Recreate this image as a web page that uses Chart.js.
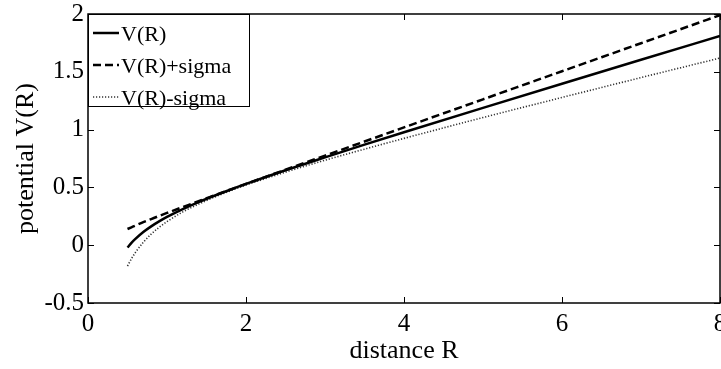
<!DOCTYPE html>
<html>
<head>
<meta charset="utf-8">
<script src="https://cdn.jsdelivr.net/npm/chart.js@4"></script>
<style>
  html, body { margin: 0; padding: 0; background: #fff; }
  #wrap { width: 721px; height: 369px; position: relative; }
</style>
</head>
<body>
<div id="wrap"><canvas id="c" width="721" height="369"></canvas></div>
<script>
// ---- data ----
const distanceR = [0.5, 0.55, 0.6, 0.7, 0.8, 0.9, 1.0, 1.2, 1.4, 1.6, 1.8, 2.0, 2.5, 3.0, 3.5, 4.0, 5.0, 6.0, 7.0, 8.0];
const potentialV = [-0.02, 0.02, 0.054, 0.114, 0.163, 0.206, 0.245, 0.313, 0.373, 0.428, 0.480, 0.530, 0.648, 0.760, 0.870, 0.977, 1.188, 1.397, 1.604, 1.810];
const potentialPlusSigma = [0.140, 0.155, 0.170, 0.199, 0.226, 0.253, 0.279, 0.330, 0.381, 0.431, 0.481, 0.530, 0.653, 0.775, 0.897, 1.019, 1.262, 1.505, 1.747, 1.990];
const potentialMinusSigma = [-0.180, -0.117, -0.063, 0.025, 0.096, 0.154, 0.204, 0.288, 0.356, 0.416, 0.470, 0.520, 0.632, 0.735, 0.831, 0.924, 1.104, 1.278, 1.450, 1.619];
const seriesLabels = ['V(R)', 'V(R)+sigma', 'V(R)-sigma'];
const xTicks = [0, 2, 4, 6, 8];
const yTicks = [-0.5, 0, 0.5, 1, 1.5, 2];
const xTitle = 'distance R';
const yTitle = 'potential V(R)';

const FONT = "'Liberation Serif', 'Times New Roman', serif";

function pts(ys) { return distanceR.map((x, i) => ({ x: x, y: ys[i] })); }

const frameAndLegend = {
  id: 'frameAndLegend',
  afterDatasetsDraw(chart) {
    const ctx = chart.ctx;
    const a = chart.chartArea;
    const xs = chart.scales.x, ys = chart.scales.y;
    ctx.save();
    ctx.strokeStyle = '#000';
    ctx.lineWidth = 1.5;
    ctx.strokeRect(a.left, a.top, a.right - a.left, a.bottom - a.top);
    const tl = 6;
    ctx.lineWidth = 1;
    ctx.beginPath();
    xTicks.forEach(v => {
      const px = Math.round(xs.getPixelForValue(v)) + 0.5;
      ctx.moveTo(px, a.bottom); ctx.lineTo(px, a.bottom - tl);
      ctx.moveTo(px, a.top); ctx.lineTo(px, a.top + tl);
    });
    yTicks.forEach(v => {
      const py = Math.round(ys.getPixelForValue(v)) + 0.5;
      ctx.moveTo(a.left, py); ctx.lineTo(a.left + tl, py);
      ctx.moveTo(a.right, py); ctx.lineTo(a.right - tl, py);
    });
    ctx.stroke();

    // legend box
    const bx = a.left, by = a.top, bw = 161, bh = 92;
    ctx.fillStyle = '#fff';
    ctx.fillRect(bx, by, bw, bh);
    ctx.lineWidth = 1;
    ctx.strokeStyle = '#000';
    ctx.strokeRect(bx + 0.5, by + 0.5, bw, bh);
    const rows = [19, 51, 83];
    chart.data.datasets.forEach((ds, i) => {
      const y = by + rows[i];
      ctx.save();
      ctx.strokeStyle = ds.borderColor;
      ctx.lineWidth = ds.borderWidth;
      ctx.setLineDash(ds.borderDash || []);
      ctx.beginPath();
      ctx.moveTo(bx + 5, y); ctx.lineTo(bx + 31, y);
      ctx.stroke();
      ctx.restore();
      ctx.fillStyle = '#000';
      ctx.font = '22px ' + FONT;
      ctx.textBaseline = 'middle';
      ctx.textAlign = 'left';
      ctx.fillText(ds.label, bx + 33, y + 2);
    });
    ctx.restore();
  }
};

new Chart(document.getElementById('c'), {
  type: 'scatter',
  data: {
    datasets: [
      { label: seriesLabels[0], data: pts(potentialV), showLine: true, borderColor: '#000', borderWidth: 2.5, pointRadius: 0, cubicInterpolationMode: 'monotone' },
      { label: seriesLabels[1], data: pts(potentialPlusSigma), showLine: true, borderColor: '#000', borderWidth: 2.5, borderDash: [8, 4], pointRadius: 0, cubicInterpolationMode: 'monotone' },
      { label: seriesLabels[2], data: pts(potentialMinusSigma), showLine: true, borderColor: '#333', borderWidth: 1.6, borderDash: [1.2, 1.8], pointRadius: 0, cubicInterpolationMode: 'monotone' }
    ]
  },
  options: {
    responsive: false,
    animation: false,
    devicePixelRatio: 1,
    layout: { padding: { top: 14, right: 1, left: 0, bottom: 0 } },
    plugins: { legend: { display: false }, tooltip: { enabled: false } },
    scales: {
      x: {
        type: 'linear', min: 0, max: 8,
        afterBuildTicks: s => { s.ticks = xTicks.map(v => ({ value: v })); },
        afterFit: s => { s.height = 66; s.paddingLeft = 0; s.paddingRight = 0; },
        grid: { display: false, drawTicks: false },
        border: { display: false },
        ticks: { color: '#000', font: { family: FONT, size: 25 }, padding: 6, maxRotation: 0, autoSkip: false, callback: v => String(v) },
        title: { display: true, text: xTitle, color: '#000', font: { family: FONT, size: 26 }, padding: { top: 0, bottom: 2 } }
      },
      y: {
        type: 'linear', min: -0.5, max: 2,
        afterBuildTicks: s => { s.ticks = yTicks.map(v => ({ value: v })); },
        afterFit: s => { s.width = 88; s.paddingTop = 0; s.paddingBottom = 0; },
        grid: { display: false, drawTicks: false },
        border: { display: false },
        ticks: { color: '#000', font: { family: FONT, size: 25 }, padding: 4, autoSkip: false, callback: v => String(v) },
        title: { display: true, text: yTitle, color: '#000', font: { family: FONT, size: 26 }, padding: { top: 11, bottom: 0 } }
      }
    }
  },
  plugins: [frameAndLegend]
});
</script>
</body>
</html>
